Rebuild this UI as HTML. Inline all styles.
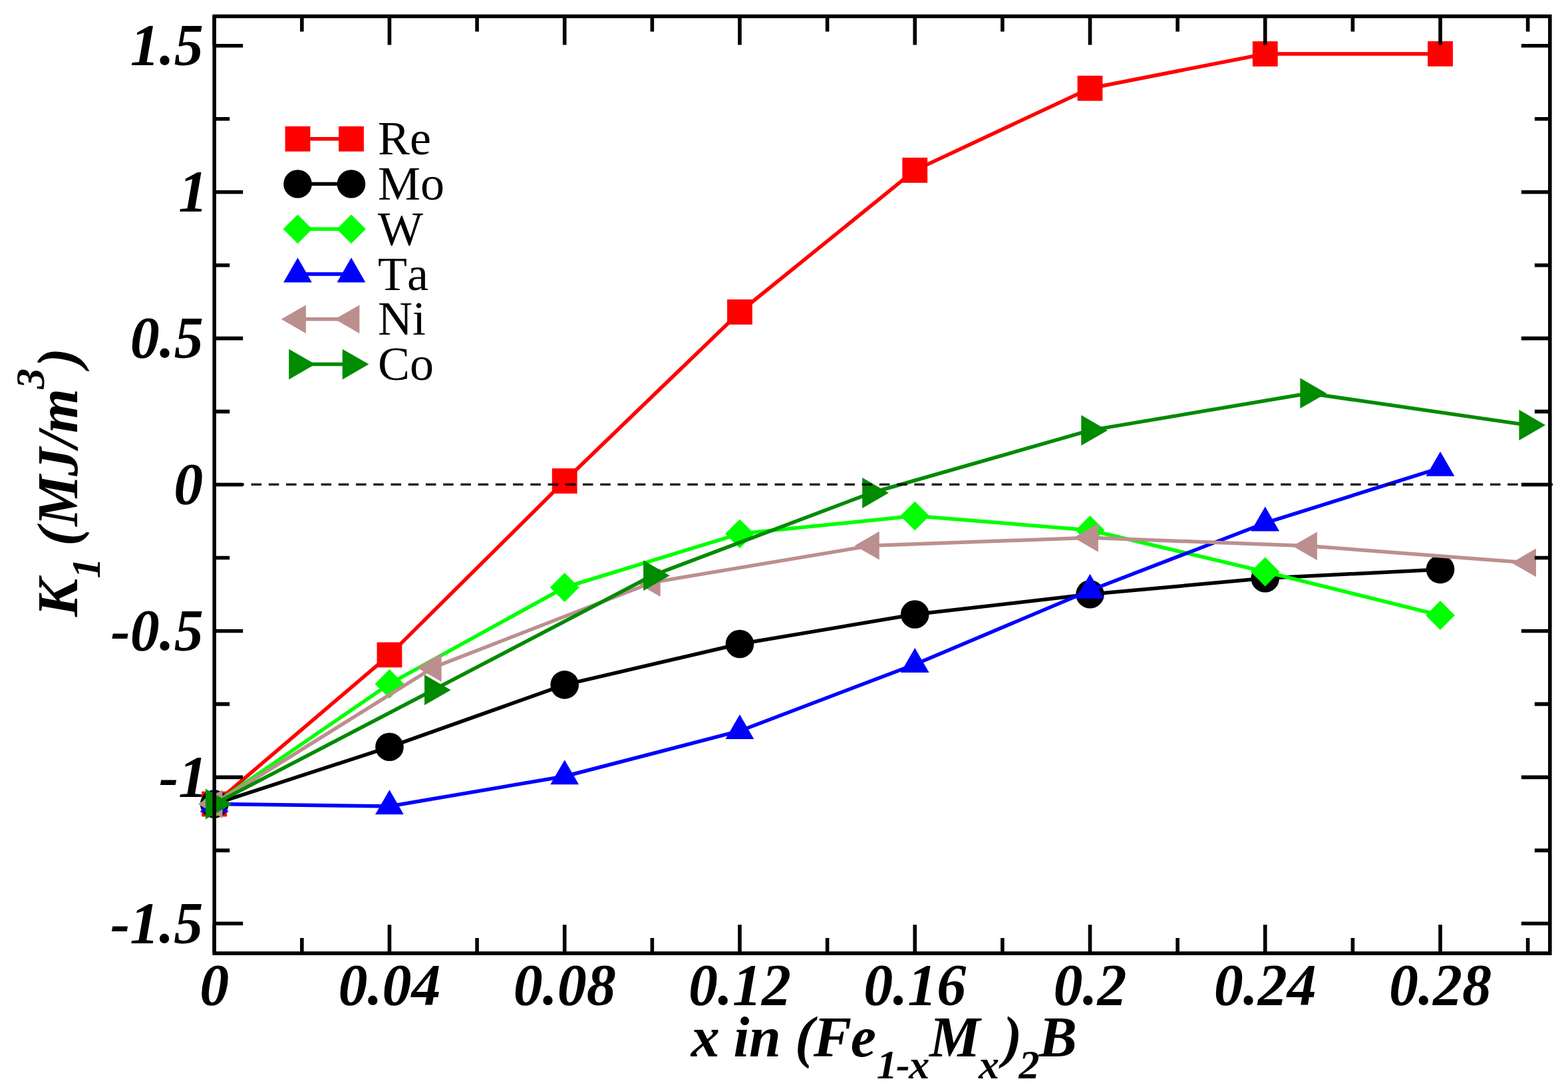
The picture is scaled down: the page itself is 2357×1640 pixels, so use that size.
<!DOCTYPE html><html><head><meta charset="utf-8"><style>html,body{margin:0;padding:0;background:#fff;overflow:hidden;}svg{display:block;}text{font-kerning:none;}.tl{font-family:"Liberation Serif",serif;font-weight:bold;font-style:italic;}.lg{font-family:"Liberation Serif",serif;}</style></head><body>
<svg width="2357" height="1640" viewBox="0 0 2357 1640">
<rect width="2357" height="1640" fill="#fff"/>
<polyline points="322.2,1208.6 585.46,984.4 848.72,723 1111.98,469 1375.24,255.9 1638.5,132.7 1901.76,81 2165.02,80.9" fill="none" stroke="#ff0000" stroke-width="5.5" stroke-linejoin="round"/>
<rect x="303.3" y="1189.7" width="37.8" height="37.8" fill="#ff0000"/>
<rect x="566.56" y="965.5" width="37.8" height="37.8" fill="#ff0000"/>
<rect x="829.82" y="704.1" width="37.8" height="37.8" fill="#ff0000"/>
<rect x="1093.08" y="450.1" width="37.8" height="37.8" fill="#ff0000"/>
<rect x="1356.34" y="237" width="37.8" height="37.8" fill="#ff0000"/>
<rect x="1619.6" y="113.8" width="37.8" height="37.8" fill="#ff0000"/>
<rect x="1882.86" y="62.1" width="37.8" height="37.8" fill="#ff0000"/>
<rect x="2146.12" y="62" width="37.8" height="37.8" fill="#ff0000"/>
<polyline points="322.2,1208.6 585.46,1122.8 848.72,1029.4 1111.98,968 1375.24,923.5 1638.5,893.3 1901.76,869.3 2165.02,855.9" fill="none" stroke="#000000" stroke-width="5.5" stroke-linejoin="round"/>
<circle cx="322.2" cy="1208.6" r="21.3" fill="#000000"/>
<circle cx="585.46" cy="1122.8" r="21.3" fill="#000000"/>
<circle cx="848.72" cy="1029.4" r="21.3" fill="#000000"/>
<circle cx="1111.98" cy="968" r="21.3" fill="#000000"/>
<circle cx="1375.24" cy="923.5" r="21.3" fill="#000000"/>
<circle cx="1638.5" cy="893.3" r="21.3" fill="#000000"/>
<circle cx="1901.76" cy="869.3" r="21.3" fill="#000000"/>
<circle cx="2165.02" cy="855.9" r="21.3" fill="#000000"/>
<polyline points="322.2,1208.6 585.46,1028 848.72,883 1111.98,802.3 1375.24,775.6 1638.5,797 1901.76,859.5 2165.02,925" fill="none" stroke="#00ff00" stroke-width="5.5" stroke-linejoin="round"/>
<polygon points="322.2,1186.7 344.1,1208.6 322.2,1230.5 300.3,1208.6" fill="#00ff00"/>
<polygon points="585.46,1006.1 607.36,1028 585.46,1049.9 563.56,1028" fill="#00ff00"/>
<polygon points="848.72,861.1 870.62,883 848.72,904.9 826.82,883" fill="#00ff00"/>
<polygon points="1111.98,780.4 1133.88,802.3 1111.98,824.2 1090.08,802.3" fill="#00ff00"/>
<polygon points="1375.24,753.7 1397.14,775.6 1375.24,797.5 1353.34,775.6" fill="#00ff00"/>
<polygon points="1638.5,775.1 1660.4,797 1638.5,818.9 1616.6,797" fill="#00ff00"/>
<polygon points="1901.76,837.6 1923.66,859.5 1901.76,881.4 1879.86,859.5" fill="#00ff00"/>
<polygon points="2165.02,903.1 2186.92,925 2165.02,946.9 2143.12,925" fill="#00ff00"/>
<polyline points="322.2,1208.6 585.46,1212 848.72,1167 1111.98,1098.7 1375.24,998.7 1638.5,887.5 1901.76,786.2 2165.02,703.4" fill="none" stroke="#0000ff" stroke-width="5.5" stroke-linejoin="round"/>
<polygon points="322.2,1183.89 343.6,1220.96 300.8,1220.96" fill="#0000ff"/>
<polygon points="585.46,1187.29 606.86,1224.36 564.06,1224.36" fill="#0000ff"/>
<polygon points="848.72,1142.29 870.12,1179.36 827.32,1179.36" fill="#0000ff"/>
<polygon points="1111.98,1073.99 1133.38,1111.06 1090.58,1111.06" fill="#0000ff"/>
<polygon points="1375.24,973.99 1396.64,1011.06 1353.84,1011.06" fill="#0000ff"/>
<polygon points="1638.5,862.79 1659.9,899.86 1617.1,899.86" fill="#0000ff"/>
<polygon points="1901.76,761.49 1923.16,798.56 1880.36,798.56" fill="#0000ff"/>
<polygon points="2165.02,678.69 2186.42,715.76 2143.62,715.76" fill="#0000ff"/>
<polyline points="322.2,1208.6 651.28,1003.4 980.35,875.5 1309.42,820.2 1638.5,808.3 1967.58,820.8 2296.65,845.9" fill="none" stroke="#bc8f8f" stroke-width="5.5" stroke-linejoin="round"/>
<polygon points="297.49,1208.6 334.56,1187.2 334.56,1230" fill="#bc8f8f"/>
<polygon points="626.56,1003.4 663.63,982 663.63,1024.8" fill="#bc8f8f"/>
<polygon points="955.64,875.5 992.71,854.1 992.71,896.9" fill="#bc8f8f"/>
<polygon points="1284.71,820.2 1321.78,798.8 1321.78,841.6" fill="#bc8f8f"/>
<polygon points="1613.79,808.3 1650.86,786.9 1650.86,829.7" fill="#bc8f8f"/>
<polygon points="1942.86,820.8 1979.93,799.4 1979.93,842.2" fill="#bc8f8f"/>
<polygon points="2271.94,845.9 2309.01,824.5 2309.01,867.3" fill="#bc8f8f"/>
<polyline points="322.2,1208.6 651.28,1037.2 980.35,865.2 1309.42,741 1638.5,646.9 1967.58,591.2 2296.65,639" fill="none" stroke="#008b00" stroke-width="5.5" stroke-linejoin="round"/>
<polygon points="348.64,1208.6 308.98,1231.5 308.98,1185.7" fill="#008b00"/>
<polygon points="677.72,1037.2 638.05,1060.1 638.05,1014.3" fill="#008b00"/>
<polygon points="1006.79,865.2 967.13,888.1 967.13,842.3" fill="#008b00"/>
<polygon points="1335.87,741 1296.2,763.9 1296.2,718.1" fill="#008b00"/>
<polygon points="1664.94,646.9 1625.28,669.8 1625.28,624" fill="#008b00"/>
<polygon points="1994.02,591.2 1954.35,614.1 1954.35,568.3" fill="#008b00"/>
<polygon points="2323.09,639 2283.43,661.9 2283.43,616.1" fill="#008b00"/>
<line x1="322.2" y1="728.2" x2="2335.5" y2="728.2" stroke="#000" stroke-opacity="0.85" stroke-width="3.6" stroke-dasharray="15.6 10.63" stroke-dashoffset="23.3"/>
<path d="M322.2 1433V1390 M322.2 24.5V67.5 M453.83 1433V1410 M453.83 24.5V47.5 M585.46 1433V1390 M585.46 24.5V67.5 M717.09 1433V1410 M717.09 24.5V47.5 M848.72 1433V1390 M848.72 24.5V67.5 M980.35 1433V1410 M980.35 24.5V47.5 M1111.98 1433V1390 M1111.98 24.5V67.5 M1243.61 1433V1410 M1243.61 24.5V47.5 M1375.24 1433V1390 M1375.24 24.5V67.5 M1506.87 1433V1410 M1506.87 24.5V47.5 M1638.5 1433V1390 M1638.5 24.5V67.5 M1770.13 1433V1410 M1770.13 24.5V47.5 M1901.76 1433V1390 M1901.76 24.5V67.5 M2033.39 1433V1410 M2033.39 24.5V47.5 M2165.02 1433V1390 M2165.02 24.5V67.5 M2296.65 1433V1410 M2296.65 24.5V47.5 M322.2 1388.3H365.2 M2329.85 1388.3H2286.85 M322.2 1278.34H345.2 M2329.85 1278.34H2306.85 M322.2 1168.38H365.2 M2329.85 1168.38H2286.85 M322.2 1058.42H345.2 M2329.85 1058.42H2306.85 M322.2 948.46H365.2 M2329.85 948.46H2286.85 M322.2 838.51H345.2 M2329.85 838.51H2306.85 M322.2 728.55H365.2 M2329.85 728.55H2286.85 M322.2 618.59H345.2 M2329.85 618.59H2306.85 M322.2 508.63H365.2 M2329.85 508.63H2286.85 M322.2 398.68H345.2 M2329.85 398.68H2306.85 M322.2 288.72H365.2 M2329.85 288.72H2286.85 M322.2 178.76H345.2 M2329.85 178.76H2306.85 M322.2 68.8H365.2 M2329.85 68.8H2286.85" stroke="#000" stroke-width="5.6" fill="none"/>
<rect x="322.2" y="24.5" width="2007.65" height="1408.5" fill="none" stroke="#000" stroke-width="5.6" stroke-linejoin="miter"/>
<text class="tl" x="305.7" y="97.3" font-size="88" text-anchor="end">1.5</text>
<text class="tl" x="312.2" y="317.22" font-size="88" text-anchor="end">1</text>
<text class="tl" x="305.7" y="537.13" font-size="88" text-anchor="end">0.5</text>
<text class="tl" x="305.2" y="757.05" font-size="88" text-anchor="end">0</text>
<text class="tl" x="305.7" y="976.96" font-size="88" text-anchor="end">-0.5</text>
<text class="tl" x="312.2" y="1196.88" font-size="88" text-anchor="end">-1</text>
<text class="tl" x="305.2" y="1416.8" font-size="88" text-anchor="end">-1.5</text>
<text class="tl" x="322.2" y="1510" font-size="88" text-anchor="middle">0</text>
<text class="tl" x="585.46" y="1510" font-size="88" text-anchor="middle">0.04</text>
<text class="tl" x="848.72" y="1510" font-size="88" text-anchor="middle">0.08</text>
<text class="tl" x="1111.98" y="1510" font-size="88" text-anchor="middle">0.12</text>
<text class="tl" x="1375.24" y="1510" font-size="88" text-anchor="middle">0.16</text>
<text class="tl" x="1638.5" y="1510" font-size="88" text-anchor="middle">0.2</text>
<text class="tl" x="1901.76" y="1510" font-size="88" text-anchor="middle">0.24</text>
<text class="tl" x="2165.02" y="1510" font-size="88" text-anchor="middle">0.28</text>
<text class="tl" x="1038" y="1587.5" font-size="86"><tspan dx="0.8">x</tspan>&#160;<tspan dx="-0.8">i</tspan><tspan dx="-0.3">n</tspan>&#160;<tspan dx="-0.5">(</tspan><tspan dx="-0.8">F</tspan><tspan dx="-1.5">e</tspan><tspan font-size="62" dy="33.5" dx="0.9">1</tspan><tspan font-size="62" dx="-1.8">-</tspan><tspan font-size="62" dx="-1.3">x</tspan><tspan dy="-33.5" dx="-0.3">M</tspan><tspan font-size="62" dy="33.5" dx="-2.4">x</tspan><tspan dy="-33.5" dx="5.6">)</tspan><tspan font-size="62" dy="33.5" dx="-4.7">2</tspan><tspan dy="-33.5" dx="-1">B</tspan></text>
<text class="tl" transform="translate(115.7 925.3) rotate(-90)" font-size="86"><tspan dx="-1.8">K</tspan><tspan font-size="62" dy="34.5" dx="0.15">1</tspan><tspan dy="-34.5">&#160;</tspan><tspan dx="-3.65">(</tspan><tspan dx="1.3">M</tspan><tspan dx="-1.5">J</tspan><tspan dx="-0.1">/</tspan><tspan dx="-1.9">m</tspan><tspan font-size="62" dy="-49.6" dx="-0.7">3</tspan><tspan dy="49.6" dx="2">)</tspan></text>
<line x1="447.5" y1="208.8" x2="528" y2="208.8" stroke="#ff0000" stroke-width="5.5"/>
<rect x="428.6" y="189.9" width="37.8" height="37.8" fill="#ff0000"/>
<rect x="509.1" y="189.9" width="37.8" height="37.8" fill="#ff0000"/>
<text class="lg" x="568" y="232.3" font-size="72">Re</text>
<line x1="447.5" y1="276.55" x2="528" y2="276.55" stroke="#000000" stroke-width="5.5"/>
<circle cx="447.5" cy="276.55" r="21.3" fill="#000000"/>
<circle cx="528" cy="276.55" r="21.3" fill="#000000"/>
<text class="lg" x="568" y="300.05" font-size="72">Mo</text>
<line x1="447.5" y1="344.3" x2="528" y2="344.3" stroke="#00ff00" stroke-width="5.5"/>
<polygon points="447.5,322.4 469.4,344.3 447.5,366.2 425.6,344.3" fill="#00ff00"/>
<polygon points="528,322.4 549.9,344.3 528,366.2 506.1,344.3" fill="#00ff00"/>
<text class="lg" x="568" y="367.8" font-size="72">W</text>
<line x1="447.5" y1="412.05" x2="528" y2="412.05" stroke="#0000ff" stroke-width="5.5"/>
<polygon points="447.5,387.34 468.9,424.41 426.1,424.41" fill="#0000ff"/>
<polygon points="528,387.34 549.4,424.41 506.6,424.41" fill="#0000ff"/>
<text class="lg" x="568" y="435.55" font-size="72">Ta</text>
<line x1="447.5" y1="479.8" x2="528" y2="479.8" stroke="#bc8f8f" stroke-width="5.5"/>
<polygon points="422.79,479.8 459.86,458.4 459.86,501.2" fill="#bc8f8f"/>
<polygon points="503.29,479.8 540.36,458.4 540.36,501.2" fill="#bc8f8f"/>
<text class="lg" x="568" y="503.3" font-size="72">Ni</text>
<line x1="447.5" y1="547.55" x2="528" y2="547.55" stroke="#008b00" stroke-width="5.5"/>
<polygon points="473.94,547.55 434.28,570.45 434.28,524.65" fill="#008b00"/>
<polygon points="554.44,547.55 514.78,570.45 514.78,524.65" fill="#008b00"/>
<text class="lg" x="568" y="571.05" font-size="72">Co</text>
</svg></body></html>
